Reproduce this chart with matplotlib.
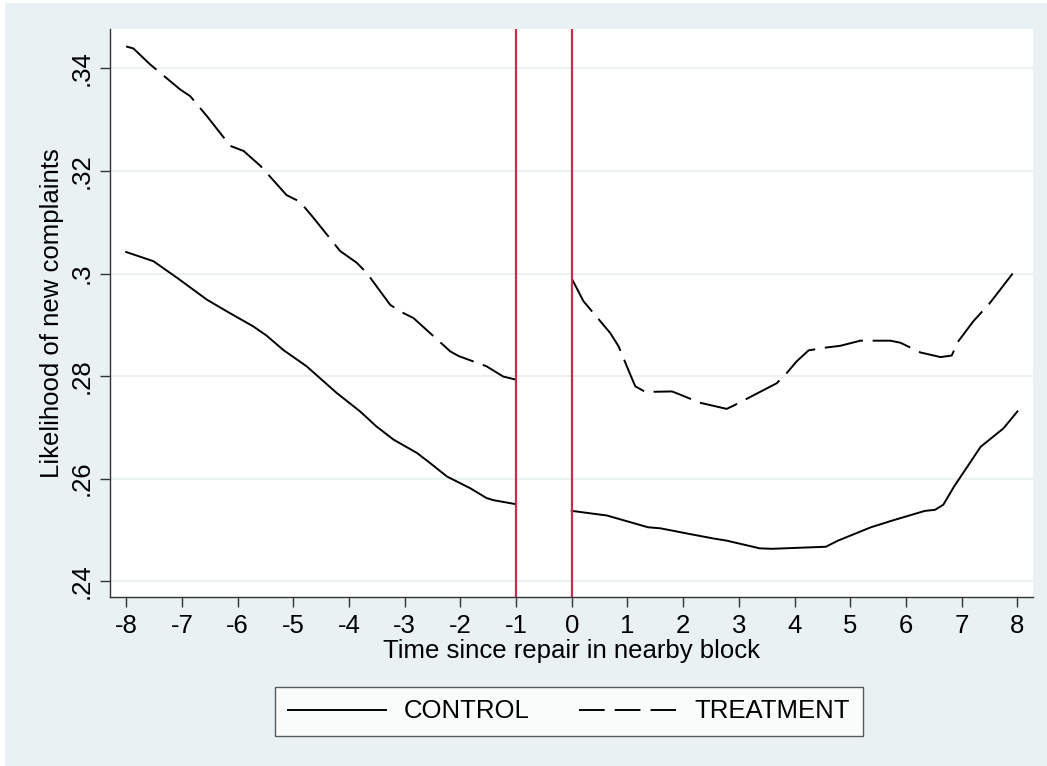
import numpy as np
import matplotlib.pyplot as plt
from matplotlib.patches import Rectangle
from matplotlib.lines import Line2D

plt.rcParams['font.family'] = ['Liberation Sans', 'DejaVu Sans']

# values
ctrl_pre_x = [-8.0, -7.51, -7.09, -6.55, -6.19, -5.72, -5.48, -5.18, -4.76, -4.22,
              -3.80, -3.51, -3.20, -2.78, -2.54, -2.24, -1.82, -1.53, -1.41, -1.0]
ctrl_pre_y = [.3042, .3024, .2992, .2949, .2926, .2897, .2879, .2851, .2819, .2767,
              .2731, .2702, .2676, .2650, .2630, .2604, .2581, .2562, .2558, .2550]
ctrl_post_x = [0.0, 0.63, 1.37, 1.59, 2.11, 2.55, 2.78, 3.37, 3.59, 4.56, 4.78,
               5.37, 5.75, 6.34, 6.52, 6.67, 6.86, 7.34, 7.75, 8.0]
ctrl_post_y = [.2537, .2528, .2505, .2503, .2492, .2483, .2479, .2464, .2463, .2467, .2479,
               .2505, .2518, .2537, .2539, .2549, .2584, .2662, .2698, .2731]

treat_pre_x = [-8.0, -7.87, -7.57, -7.03, -6.85, -6.55, -6.13, -5.89, -5.59, -5.12,
               -4.88, -4.64, -4.16, -3.86, -3.68, -3.26, -3.08, -2.84, -2.18, -2.03,
               -1.53, -1.23, -1.0]
treat_pre_y = [.3443, .3439, .3408, .3359, .3346, .3307, .3249, .3239, .3210, .3153,
               .3140, .3109, .3044, .3021, .3001, .2939, .2926, .2913, .2848, .2839,
               .2819, .2799, .2793]
treat_post_x = [0.0, 0.21, 0.69, 0.84, 1.05, 1.14, 1.32, 1.80, 1.94, 2.30, 2.78, 2.90,
                3.68, 3.86, 4.04, 4.25, 4.52, 4.82, 5.18, 5.72, 5.90, 6.26, 6.62, 6.82,
                6.94, 7.21, 7.51, 8.0]
treat_post_y = [.2990, .2946, .2884, .2858, .2803, .2780, .2769, .2770, .2764, .2748,
                .2736, .2742, .2786, .2806, .2829, .2850, .2855, .2859, .2869, .2869,
                .2865, .2846, .2837, .2840, .2868, .2907, .2943, .3012]

xticks = list(range(-8, 9))
yticks = [.24, .26, .28, .30, .32, .34]
ytick_labels = [".24", ".26", ".28", ".3", ".32", ".34"]
vlines = [-1, 0]

bg = '#e9f1f3'
fs = 18.5
fig = plt.figure(figsize=(10.47, 7.66), dpi=100, facecolor='white')
fig.patches.append(Rectangle((5 / 1047, 0), 1, 1 - 3 / 766, transform=fig.transFigure,
                             facecolor=bg, edgecolor='none', zorder=-1))

ax = fig.add_axes([110 / 1047, 1 - 597 / 766, 923 / 1047, 568 / 766])
ax.set_facecolor('white')

lw = 1.4
ax.plot(ctrl_pre_x, ctrl_pre_y, color='black', lw=lw)
ax.plot(ctrl_post_x, ctrl_post_y, color='black', lw=lw)
ax.plot(treat_pre_x, treat_pre_y, color='black', lw=lw, dashes=(20, 5))
ax.plot(treat_post_x, treat_post_y, color='black', lw=lw, dashes=(20, 5))

for v in vlines:
    ax.axvline(v, color='#c0304e', lw=1.6, zorder=3)

ax.set_xlim(-8.29, 8.28)
ax.set_ylim(0.2369, 0.3477)
ax.set_xticks(xticks)
ax.set_xticklabels([str(t) for t in xticks], fontsize=fs)
ax.set_yticks(yticks)
ax.set_yticklabels(ytick_labels, fontsize=fs, rotation=90, va='center')
ax.grid(axis='y', color='#e8eff1', lw=1.2)
ax.set_axisbelow(True)

for side in ['top', 'right']:
    ax.spines[side].set_visible(False)
for side in ['left', 'bottom']:
    ax.spines[side].set_color('#333333')
    ax.spines[side].set_linewidth(1.0)
ax.tick_params(direction='out', length=7, width=1, color='#333333', pad=5)

ax.set_xlabel('Time since repair in nearby block', fontsize=fs, labelpad=1)
ax.set_ylabel('Likelihood of new complaints', fontsize=fs, labelpad=4)

# legend uses its own handles so the dash shows three clean dashes
handles = [Line2D([], [], color='black', lw=lw),
           Line2D([], [], color='black', lw=lw, dashes=(13.2, 5.2))]
leg = fig.legend(handles, ['CONTROL', 'TREATMENT'], loc='center',
                 bbox_to_anchor=(569 / 1047, 1 - 711.5 / 766), ncol=2,
                 fontsize=fs, frameon=True, fancybox=False, handlelength=3.8,
                 handletextpad=0.7, columnspacing=1.9, borderpad=0.5)
leg.get_frame().set_edgecolor('#333333')
leg.get_frame().set_linewidth(1.0)

fig.savefig('out.png', dpi=100, facecolor=fig.get_facecolor())
